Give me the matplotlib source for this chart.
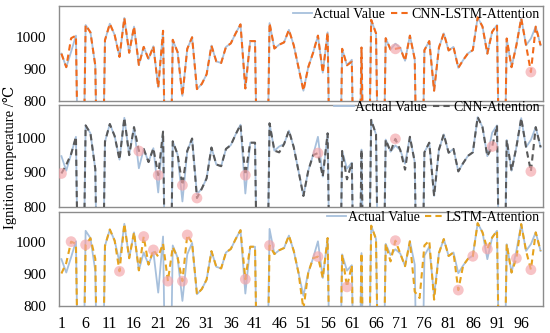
import matplotlib
matplotlib.use("Agg")
import matplotlib.pyplot as plt
import numpy as np
from matplotlib.lines import Line2D

plt.rcParams['font.family'] = ['Liberation Serif', 'DejaVu Serif', 'DejaVu Sans']

# ---------------- data ----------------
sample_index = list(range(1, 101))
x_tick_labels = [str(v) for v in range(1, 100, 5)]
y_ticks = [800, 900, 1000]

# 0 = value far below the axis range (line drops off the plot)
actual = [947, 905, 953, 1003, 0, 1036, 1013, 910, 0, 989,
          1040, 1005, 937, 1058, 950, 1031, 912, 968, 930, 970,
          842, 1018, 0, 990, 952, 816, 962, 998, 837, 853,
          883, 972, 923, 918, 968, 979, 1010, 1038, 839, 986,
          986, 0, 0, 1042, 963, 975, 982, 1021, 973, 903,
          832, 905, 950, 1003, 888, 1013, 0, 0, 962, 911,
          928, 0, 966, 0, 1052, 1010, 0, 995, 960, 978,
          965, 925, 1003, 930, 0, 958, 986, 832, 966, 1010,
          957, 968, 903, 927, 948, 958, 1060, 1031, 947, 1015,
          1036, 0, 994, 905, 973, 1057, 973, 994, 1031, 973]

cnn_lstm_att = list(actual)
for i, v in {3: 995, 61: 922, 70: 962, 98: 890}.items():
    cnn_lstm_att[i - 1] = v

cnn_att = list(actual)
for i, v in {1: 897, 2: 922, 17: 962, 21: 892, 26: 863, 29: 826, 39: 892,
             46: 958, 54: 956, 60: 880, 70: 997, 72: 908, 90: 975,
             98: 903}.items():
    cnn_att[i - 1] = v

lstm_att = list(actual)
for i, v in {1: 902, 2: 935, 3: 1002, 4: 995, 6: 992, 8: 948, 13: 909,
             18: 1018, 20: 976, 21: 955, 22: 996, 23: 878, 24: 985,
             26: 878, 27: 1023, 39: 884, 44: 990, 51: 790, 54: 955,
             60: 860, 69: 940, 70: 1005, 74: 845, 75: 825, 76: 990,
             77: 1005, 78: 820, 83: 850, 86: 956, 89: 979, 95: 950,
             98: 914}.items():
    lstm_att[i - 1] = v

# highlighted (circled) points per panel
hl_top = [70, 98]
hl_mid = [1, 17, 21, 26, 29, 39, 54, 70, 90, 98]
hl_bot = [3, 6, 13, 18, 20, 23, 26, 27, 39, 44, 54, 60, 70, 83, 86, 89, 95, 98]

series_names = ["CNN-LSTM-Attention", "CNN-Attention", "LSTM-Attention"]
preds = [cnn_lstm_att, cnn_att, lstm_att]
highlights = [hl_top, hl_mid, hl_bot]

# ---------------- style ----------------
actual_color = '#a7c0dc'
pred_colors = ['#f26a1b', '#595959', '#e6a31e']
circle_color = '#f4a3a8'
spine_color = '#8c8c8c'

W, H = 550, 333
fig = plt.figure(figsize=(W / 100, H / 100), dpi=100)

# panel boxes in pixels: (top, bottom)
boxes = [(6, 101), (105, 207), (212, 306)]
left_px, right_px = 59, 543
legend_top_px = [8, 101, 211]

x = np.array(sample_index)
for k, ((t, b), name, pred, hl) in enumerate(zip(boxes, series_names, preds, highlights)):
    ax = fig.add_axes([left_px / W, 1 - b / H, (right_px - left_px) / W, (b - t) / H])
    ax.plot(x, actual, color=actual_color, lw=1.3, zorder=2)
    ax.plot(x, pred, color=pred_colors[k], lw=1.5, ls=(0, (3, 2)), zorder=3)
    pv = np.array(pred, dtype=float)
    idx = np.array(hl) - 1
    ax.scatter(x[idx], pv[idx], s=60, color=circle_color, alpha=0.65,
               edgecolors='none', zorder=4)
    ax.set_xlim(0.5, 100.5)
    ax.set_ylim(800, 1095)
    ax.set_yticks(y_ticks)
    ax.set_yticklabels([str(v) for v in y_ticks], fontsize=11)
    ax.tick_params(axis='y', length=0, pad=9)
    ax.tick_params(axis='x', length=0, pad=7)
    ax.set_xticks(x[::5])
    if k == 2:
        ax.set_xticklabels(x_tick_labels, fontsize=11.5)
    else:
        ax.set_xticklabels([])
    for s in ax.spines.values():
        s.set_color(spine_color)
        s.set_linewidth(1.0)
    handles = [Line2D([], [], color=actual_color, lw=1.3),
               Line2D([], [], color=pred_colors[k], lw=1.5, ls=(0, (3, 2)))]
    fig.legend(handles, ["Actual Value", name], loc='upper right',
               bbox_to_anchor=(540 / W, 1 - legend_top_px[k] / H), ncol=2,
               frameon=False, fontsize=10, handlelength=1.4,
               handletextpad=0.1, columnspacing=0.4, borderaxespad=0,
               borderpad=0)

fig.text(10 / W, 1 - 157 / H, "Ignition temperature /℃", rotation=90,
         ha='center', va='center', fontsize=10.5)

fig.savefig("out.png", dpi=100)
